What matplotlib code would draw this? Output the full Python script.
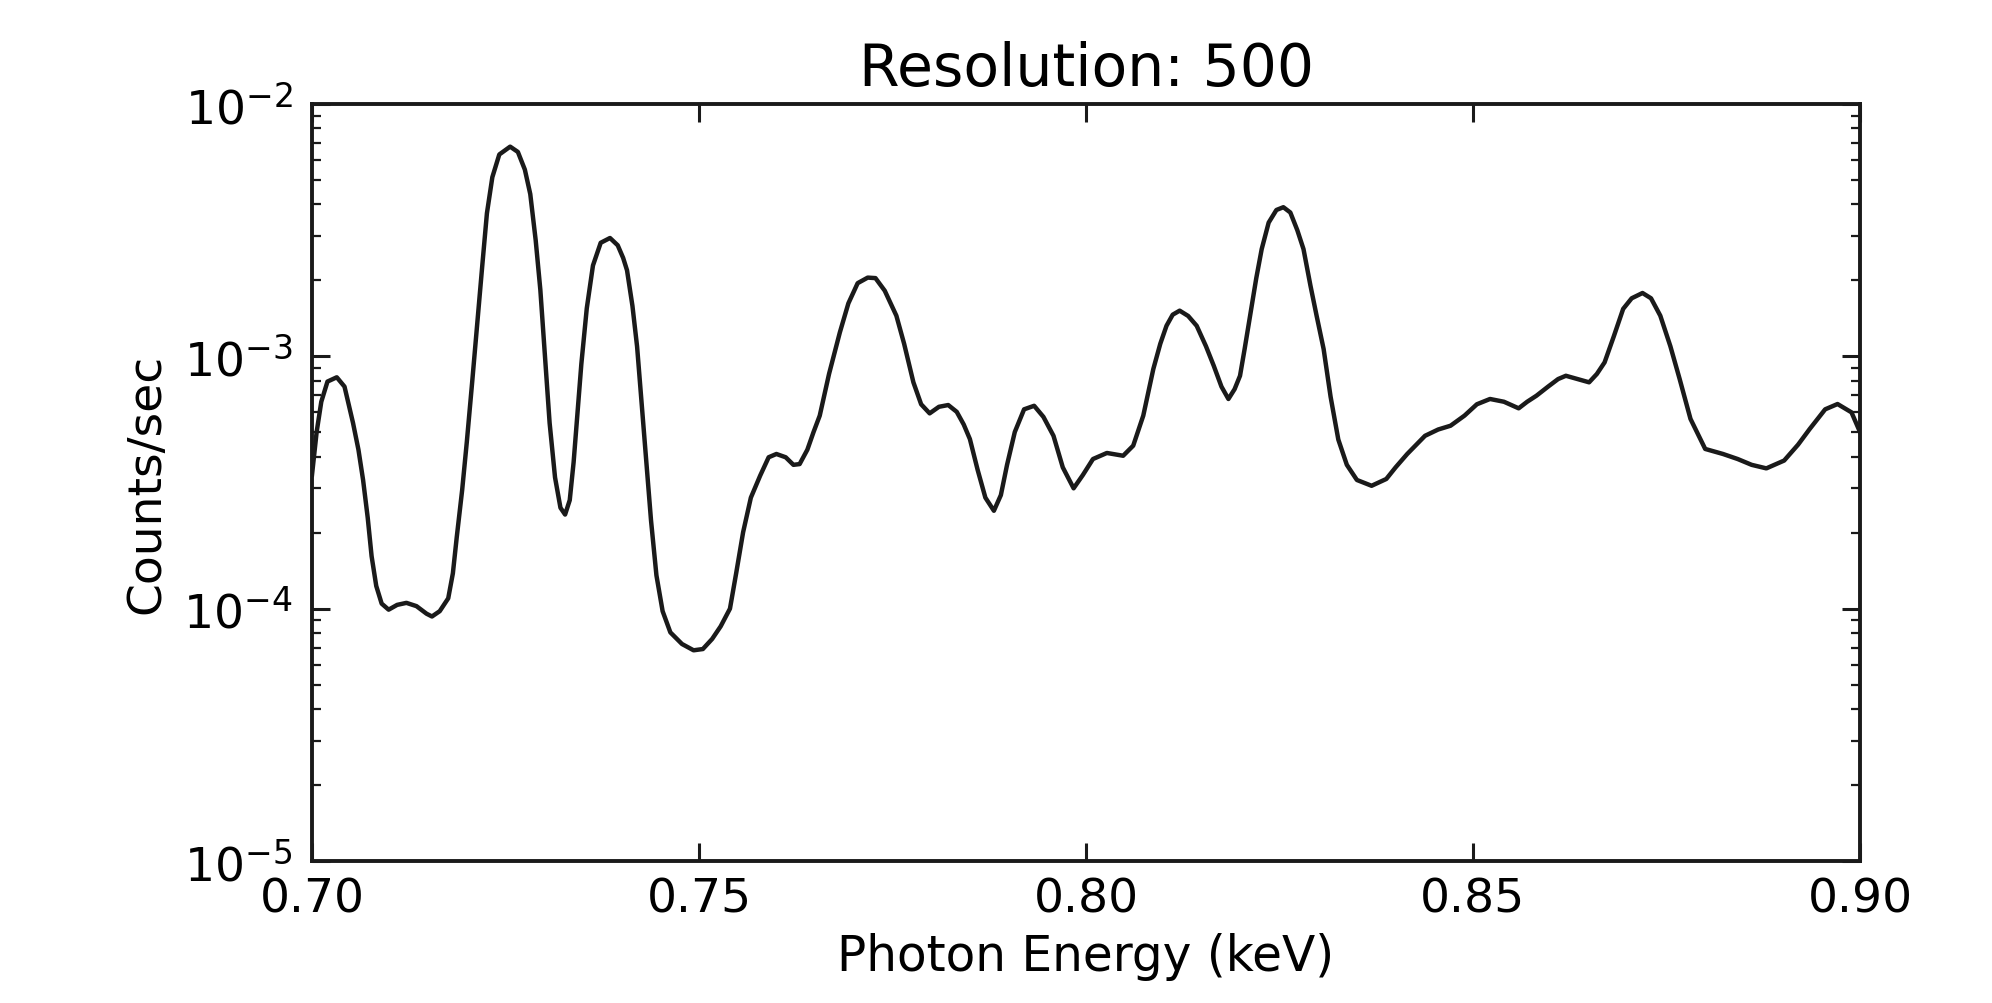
import numpy as np
import matplotlib
matplotlib.use("Agg")
import matplotlib.pyplot as plt
from matplotlib.ticker import LogLocator, FixedLocator, FuncFormatter

# Photon energy (keV) and log10(counts/sec)
energy = [0.7000, 0.7006, 0.7012, 0.7020, 0.7032, 0.7042, 0.7053, 0.7060, 0.7066, 0.7072,
          0.7077, 0.7083, 0.7090, 0.7099, 0.7110, 0.7122, 0.7135, 0.7148, 0.7155, 0.7165,
          0.7176, 0.7182, 0.7187, 0.7194, 0.7200, 0.7207, 0.7213, 0.7220, 0.7226, 0.7233,
          0.7242, 0.7256, 0.7266, 0.7275, 0.7282, 0.7289, 0.7295, 0.7301, 0.7307, 0.7314,
          0.7321, 0.7327, 0.7333, 0.7338, 0.7342, 0.7348, 0.7355, 0.7363, 0.7373, 0.7385,
          0.7395, 0.7402, 0.7407, 0.7414, 0.7420, 0.7426, 0.7432, 0.7438, 0.7445, 0.7453,
          0.7463, 0.7478, 0.7493, 0.7505, 0.7517, 0.7528, 0.7540, 0.7548, 0.7557, 0.7567,
          0.7579, 0.7590, 0.7600, 0.7612, 0.7622, 0.7630, 0.7640, 0.7648, 0.7656, 0.7668,
          0.7682, 0.7693, 0.7705, 0.7718, 0.7728, 0.7740, 0.7755, 0.7765, 0.7777, 0.7787,
          0.7798, 0.7810, 0.7822, 0.7833, 0.7842, 0.7850, 0.7860, 0.7870, 0.7881, 0.7890,
          0.7898, 0.7908, 0.7920, 0.7933, 0.7945, 0.7958, 0.7970, 0.7984, 0.7996, 0.8009,
          0.8027, 0.8048, 0.8061, 0.8074, 0.8087, 0.8096, 0.8104, 0.8112, 0.8121, 0.8132,
          0.8143, 0.8155, 0.8165, 0.8175, 0.8184, 0.8192, 0.8199, 0.8205, 0.8212, 0.8220,
          0.8227, 0.8236, 0.8246, 0.8255, 0.8264, 0.8273, 0.8281, 0.8290, 0.8298, 0.8307,
          0.8316, 0.8326, 0.8337, 0.8350, 0.8369, 0.8388, 0.8400, 0.8415, 0.8438, 0.8455,
          0.8471, 0.8489, 0.8505, 0.8522, 0.8540, 0.8559, 0.8570, 0.8582, 0.8597, 0.8610,
          0.8620, 0.8635, 0.8650, 0.8660, 0.8670, 0.8682, 0.8694, 0.8705, 0.8719, 0.8730,
          0.8742, 0.8755, 0.8767, 0.8781, 0.8800, 0.8823, 0.8842, 0.8860, 0.8879, 0.8902,
          0.8920, 0.8935, 0.8955, 0.8971, 0.8989, 0.9000]
log_counts = [-3.47, -3.30, -3.18, -3.10, -3.083, -3.12, -3.264, -3.37, -3.49, -3.64,
              -3.792, -3.91, -3.98, -4.004, -3.985, -3.977, -3.99, -4.02, -4.031, -4.01,
              -3.959, -3.86, -3.717, -3.53, -3.340, -3.10, -2.887, -2.64, -2.433, -2.29,
              -2.20, -2.169, -2.19, -2.26, -2.357, -2.54, -2.736, -3.00, -3.264, -3.48,
              -3.60, -3.627, -3.57, -3.42, -3.264, -3.03, -2.81, -2.64, -2.55, -2.531,
              -2.56, -2.61, -2.659, -2.80, -2.961, -3.19, -3.415, -3.65, -3.868, -4.01,
              -4.094, -4.14, -4.165, -4.16, -4.12, -4.07, -4.00, -3.86, -3.697, -3.56,
              -3.473, -3.40, -3.387, -3.40, -3.43, -3.427, -3.37, -3.30, -3.235, -3.07,
              -2.905, -2.79, -2.71, -2.688, -2.69, -2.74, -2.839, -2.95, -3.103, -3.19,
              -3.226, -3.20, -3.193, -3.22, -3.27, -3.328, -3.45, -3.56, -3.612, -3.55,
              -3.43, -3.30, -3.21, -3.196, -3.24, -3.315, -3.44, -3.523, -3.47, -3.407,
              -3.383, -3.394, -3.354, -3.235, -3.050, -2.95, -2.879, -2.835, -2.819, -2.84,
              -2.879, -2.96, -3.037, -3.12, -3.169, -3.13, -3.077, -2.97, -2.839, -2.69,
              -2.575, -2.47, -2.42, -2.409, -2.43, -2.50, -2.575, -2.72, -2.84, -2.971,
              -3.16, -3.33, -3.43, -3.49, -3.513, -3.486, -3.44, -3.387, -3.315, -3.29,
              -3.275, -3.235, -3.19, -3.169, -3.18, -3.206, -3.18, -3.156, -3.12, -3.09,
              -3.077, -3.09, -3.103, -3.07, -3.024, -2.92, -2.812, -2.77, -2.749, -2.77,
              -2.839, -2.96, -3.09, -3.248, -3.367, -3.387, -3.407, -3.43, -3.444, -3.413,
              -3.35, -3.288, -3.21, -3.189, -3.222, -3.30]
counts = [10 ** v for v in log_counts]

x_ticks = [0.70, 0.75, 0.80, 0.85, 0.90]
title = "Resolution: 500"
xlabel = "Photon Energy (keV)"
ylabel = "Counts/sec"

plt.rcParams['font.family'] = ['DejaVu Sans']
plt.rcParams['axes.unicode_minus'] = False
fig = plt.figure(figsize=(19.92, 10.04), dpi=100)
ax = fig.add_axes([312/1992, 1-862/1004, (1860-312)/1992, (862-105)/1004])

ax.plot(energy, counts, color='#1a1a1a', lw=3.2, solid_joinstyle='round')
ax.set_yscale('log')
ax.set_xlim(0.70, 0.90)
ax.set_ylim(1e-5, 1e-2)

ax.xaxis.set_major_locator(FixedLocator(x_ticks))
ax.xaxis.set_major_formatter(FuncFormatter(lambda v, p: f"{v:.2f}"))
ax.yaxis.set_major_locator(LogLocator(base=10))
ax.yaxis.set_minor_locator(LogLocator(base=10, subs=np.arange(2, 10)))

for s in ax.spines.values():
    s.set_linewidth(2.8)
    s.set_color('#1a1a1a')

ax.tick_params(which='both', direction='in', top=True, right=True,
               color='#1a1a1a', labelsize=34)
ax.tick_params(which='major', length=13, width=2.2, pad=11)
ax.tick_params(which='minor', length=6.5, width=1.6)
ax.tick_params(axis='y', which='major', pad=14)

ax.set_title(title, fontsize=42, pad=14)
ax.set_xlabel(xlabel, fontsize=35, labelpad=8)
ax.set_ylabel(ylabel, fontsize=34, labelpad=10)

fig.savefig("out.png", dpi=100)
